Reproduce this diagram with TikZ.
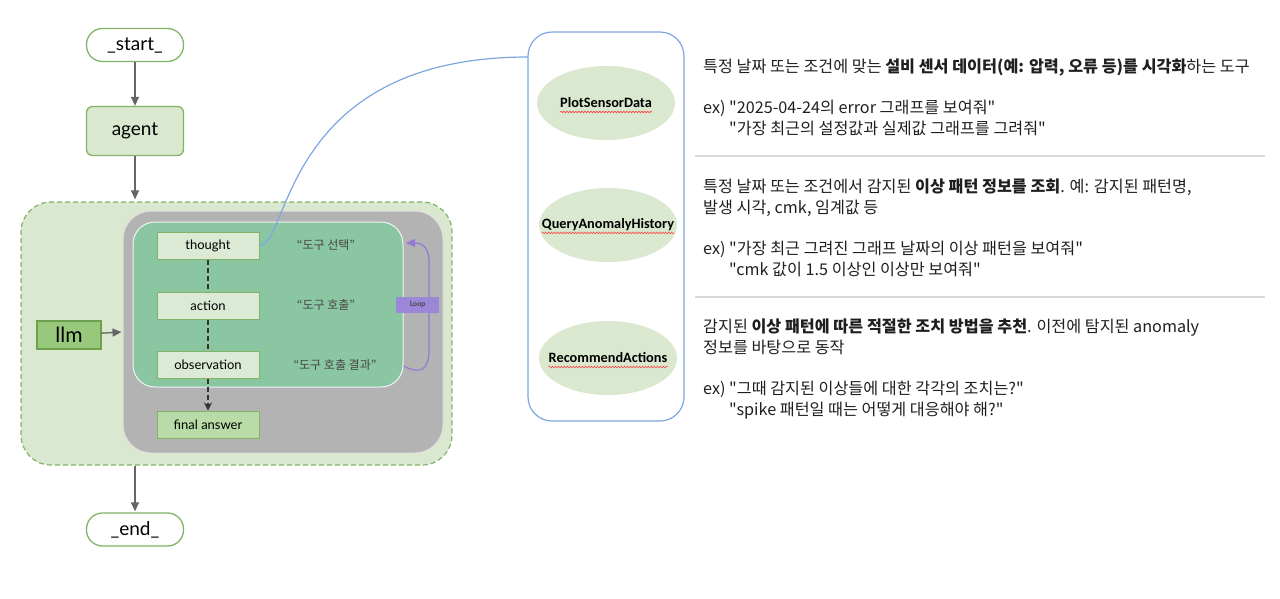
\documentclass[tikz,border=0pt]{standalone}
\usepackage{fontspec}
\setmainfont{Lato}
\newfontfamily\krfont{Noto Sans CJK KR}
\newfontfamily\calfont{Carlito}
\usepackage{tikz}
\usetikzlibrary{positioning,arrows.meta,shapes.geometric,decorations.pathmorphing}
\definecolor{grnln}{RGB}{130,179,102}
\definecolor{lgfill}{RGB}{218,232,208}
\definecolor{stepfill}{RGB}{220,234,213}
\definecolor{finfill}{RGB}{185,219,168}
\definecolor{llmfill}{RGB}{151,200,123}
\definecolor{llmln}{RGB}{108,160,78}
\definecolor{grybox}{RGB}{179,179,179}
\definecolor{loopfill}{RGB}{138,198,162}
\definecolor{purp}{RGB}{150,120,214}
\definecolor{purpfill}{RGB}{155,135,216}
\definecolor{toolln}{RGB}{126,166,224}
\definecolor{sepgray}{RGB}{217,217,217}
\definecolor{arrgray}{RGB}{102,102,102}
\definecolor{qgray}{RGB}{70,70,70}

\begin{document}
\begin{tikzpicture}[x=1pt,y=-1pt,>={Triangle[length=9pt,width=8pt]},
  term/.style={draw=grnln,line width=1.3pt,rounded corners=16pt,fill=white,
               minimum width=97pt,minimum height=33pt,inner sep=0pt,font=\fontsize{19}{22}\selectfont},
  agentbox/.style={draw=grnln,line width=1.3pt,rounded corners=6pt,fill=lgfill,
               minimum width=97pt,minimum height=49pt,inner sep=0pt,font=\fontsize{19}{22}\selectfont},
  stepbox/.style={draw=grnln,line width=1pt,fill=stepfill,minimum width=102pt,minimum height=27pt,
               inner sep=0pt,font=\fontsize{13}{15}\selectfont},
  quote/.style={text=qgray,font=\krfont\fontsize{12}{14}\selectfont},
  tool/.style={ellipse,fill=lgfill,minimum width=138pt,minimum height=74pt},
  tooltxt/.style={inner sep=0pt,font=\calfont\bfseries\fontsize{14.3}{16}\selectfont},
  spell/.style={red!75,line width=0.6pt,decorate,decoration={snake,amplitude=0.8pt,segment length=3pt}},
  desc/.style={anchor=north west,align=left,inner sep=0pt,text=black!88,font=\krfont\fontsize{16.2}{21}\selectfont},
  sep/.style={draw=sepgray,line width=1.2pt},
  flow/.style={->,arrgray,line width=1.3pt}]
  \useasboundingbox (0,0) rectangle (1280,598);

  % ---------- agent graph ----------
  \node[term] (start) at (135,45) {\_start\_};
  \node[agentbox] (agent) at (135,131) {agent};
  \node[draw=grnln,fill=lgfill,line width=1.2pt,dash pattern=on 5pt off 3pt,rounded corners=30pt,
        minimum width=431pt,minimum height=263pt] (graph) at (236.5,333.5) {};
  \node[fill=grybox,draw=black!12,line width=1pt,rounded corners=28pt,
        minimum width=320pt,minimum height=242pt] (react) at (283,332) {};
  \node[fill=loopfill,draw=white!85!loopfill,line width=1pt,rounded corners=22pt,
        minimum width=270pt,minimum height=165pt] (loopbox) at (268,304.5) {};
  \node[stepbox] (thought) at (208,245.5) {thought};
  \node[stepbox] (action) at (208,305.5) {action};
  \node[stepbox] (obs) at (208,364.5) {observation};
  \node[stepbox,fill=finfill] (final) at (208,424.5) {final answer};
  \node[quote] (qsel) at (326,245) {“도구 선택”};
  \node[quote] (qcall) at (326,305) {“도구 호출”};
  \node[quote] (qres) at (335,365) {“도구 호출 결과”};
  \node[draw=llmln,line width=1.2pt,fill=llmfill,minimum width=64pt,minimum height=28pt,
        inner sep=0pt,font=\fontsize{21}{24}\selectfont] (llm) at (69,335) {llm};
  \node[term] (end) at (135,529.5) {\_end\_};
  \draw[flow] (start) -- (agent);
  \draw[flow,shorten >=2pt] (agent) -- (agent |- graph.north);
  \draw[flow,shorten >=1pt] (end |- graph.south) -- (end);
  \draw[flow,shorten >=1pt] (llm) -- (react.west);
  \draw[black!80,line width=1.3pt,dash pattern=on 5pt off 3pt] (thought) -- (action);
  \draw[black!80,line width=1.3pt,dash pattern=on 5pt off 3pt] (action) -- (obs);
  \draw[black!80,line width=1.3pt,dash pattern=on 5pt off 3pt,-{Stealth[length=8pt,width=8pt]}] (obs) -- (final);

  % loop back
  \coordinate (lpout) at (404,366);
  \coordinate (lpin) at (406,243);
  \draw[purp,line width=1.2pt,-{Triangle[length=9pt,width=8pt]}] (lpout) .. controls (418,374) and (429,372) .. (429,350)
    -- (429,262) .. controls (429,246) and (421,243) .. (lpin);
  \node[fill=purpfill,minimum width=43pt,minimum height=16pt,inner sep=0pt,text=black!75,
        font=\bfseries\fontsize{7}{8}\selectfont] (loop) at (417.5,305) {Loop};

  % ---------- tools ----------
  \node[draw=toolln,line width=1.2pt,rounded corners=24pt,fill=white,
        minimum width=156pt,minimum height=389pt] (tools) at (606,226.5) {};
  \coordinate (toolin) at (528,57);
  \draw[toolln,line width=1.2pt] (thought.east) .. controls (290,245) and (282,57) .. (toolin);
  \node[tool] (pst) at (606,103) {};
  \node[tool] (qah) at (608,225) {};
  \node[tool] (rac) at (608,358) {};
  \node[tooltxt] (pstT) at (pst) {PlotSensorData};
  \node[tooltxt] (qahT) at (qah) {QueryAnomalyHistory};
  \node[tooltxt] (racT) at (rac) {RecommendActions};
  \foreach \t in {pstT,qahT,racT}
    \draw[spell] ([yshift=-4pt]\t.base west) -- ([yshift=-4pt]\t.base east);

  % ---------- descriptions ----------
  \node[desc] (dplot) at (703,59) {특정 날짜 또는 조건에 맞는 \textbf{설비 센서 데이터(예: 압력, 오류 등)를 시각화}하는 도구\\[20pt]
    ex) "2025-04-24의 error 그래프를 보여줘"\\
    \phantom{ex) }"가장 최근의 설정값과 실제값 그래프를 그려줘"};
  \node[desc] (dquery) at (703,179) {특정 날짜 또는 조건에서 감지된 \textbf{이상 패턴 정보를 조회}. 예: 감지된 패턴명,\\
    발생 시각, cmk, 임계값 등\\[20pt]
    ex) "가장 최근 그려진 그래프 날짜의 이상 패턴을 보여줘"\\
    \phantom{ex) }"cmk 값이 1.5 이상인 이상만 보여줘"};
  \node[desc] (drec) at (703,319) {감지된 \textbf{이상 패턴에 따른 적절한 조치 방법을 추천}. 이전에 탐지된 anomaly\\
    정보를 바탕으로 동작\\[20pt]
    ex) "그때 감지된 이상들에 대한 각각의 조치는?"\\
    \phantom{ex) }"spike 패턴일 때는 어떻게 대응해야 해?"};
  \draw[sep] (695,156) -- (1265,156);
  \draw[sep] (695,297) -- (1265,297);
\end{tikzpicture}
\end{document}
